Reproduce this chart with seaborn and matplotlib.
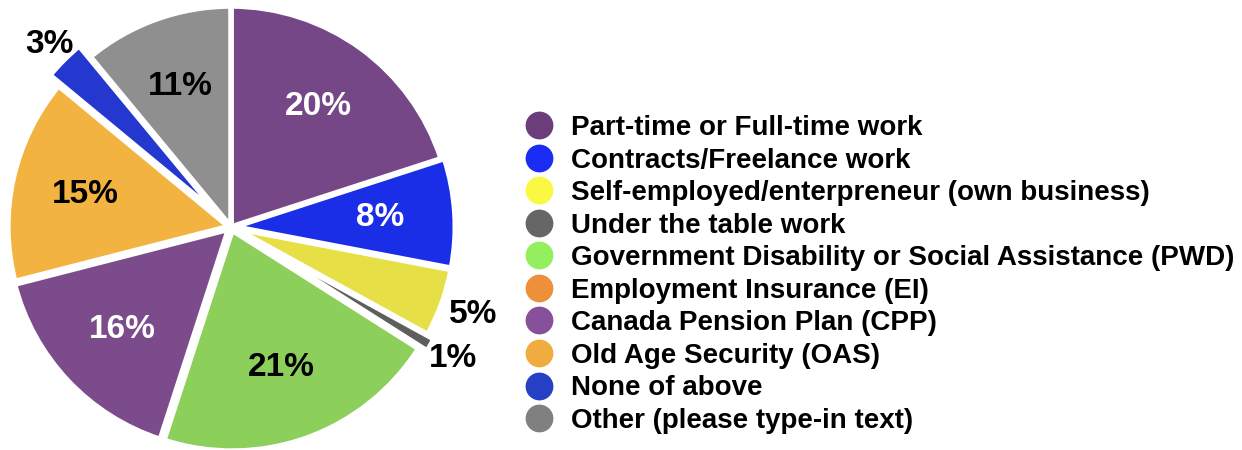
import matplotlib.pyplot as plt
import numpy as np
import seaborn as sns
from matplotlib.lines import Line2D

categories = [
    "Part-time or Full-time work",
    "Contracts/Freelance work",
    "Self-employed/enterpreneur (own business)",
    "Under the table work",
    "Government Disability or Social Assistance (PWD)",
    "Employment Insurance (EI)",
    "Canada Pension Plan (CPP)",
    "Old Age Security (OAS)",
    "None of above",
    "Other (please type-in text)",
]
shares = [20, 8, 5, 1, 21, 0, 16, 15, 3, 11]
slice_colors = ["#764787", "#1a2ee8", "#e6df45", "#5e5e5e", "#8ccf5a",
                "#f0923a", "#7b4b8c", "#f2b340", "#2438cf", "#8f8f8f"]
legend_colors = ["#6b3d7a", "#1b2df5", "#fbf843", "#666666", "#93ef5e",
                 "#ee903a", "#86509a", "#f0ac3e", "#2540c4", "#808080"]
label_colors = ["white", "white", "black", "black", "black",
                "black", "white", "black", "black", "black"]
explode = [0.0, 0.015, 0.015, 0.05, 0.015, 0.0, 0.015, 0.01, 0.07, 0.0]

sns.set_theme(style="white")
plt.rcParams["font.family"] = ["Liberation Sans", "DejaVu Sans"]
plt.rcParams["text.color"] = "black"

W, H, DPI = 1242, 450, 100
CX, CY, R = 231, 227, 221

fig = plt.figure(figsize=(W / DPI, H / DPI), dpi=DPI)
ax = fig.add_axes([0, 0, 1, 1])
wedges, _ = ax.pie(shares, colors=slice_colors, startangle=90, counterclock=False,
                   explode=explode, radius=1.0,
                   wedgeprops=dict(edgecolor="white", linewidth=4))
ax.set_xlim(-CX / R, (W - CX) / R)
ax.set_ylim(-(H - CY) / R, CY / R)
ax.set_aspect("equal")
ax.axis("off")

# percentage labels: inside for big slices, just outside for the small ones
for wedge, value, color in zip(wedges, shares, label_colors):
    if value == 0:
        continue
    mid = np.deg2rad((wedge.theta1 + wedge.theta2) / 2)
    dist = 0.675 if value >= 8 else 1.165
    ax.text(dist * np.cos(mid), dist * np.sin(mid), f"{value}%",
            ha="center", va="center", fontsize=24, fontweight="bold", color=color)

handles = [Line2D([], [], linestyle="none", marker="o", markersize=19,
                  markerfacecolor=c, markeredgecolor=c) for c in legend_colors]
fig.legend(handles, categories, loc="upper left",
           bbox_to_anchor=(525 / W, 1 - 115 / H), bbox_transform=fig.transFigure,
           frameon=False, prop=dict(size=20, weight="bold"), labelcolor="black",
           handlelength=1.0, handletextpad=0.65, labelspacing=0.235,
           borderpad=0, borderaxespad=0)

fig.savefig("out.png", dpi=DPI)
